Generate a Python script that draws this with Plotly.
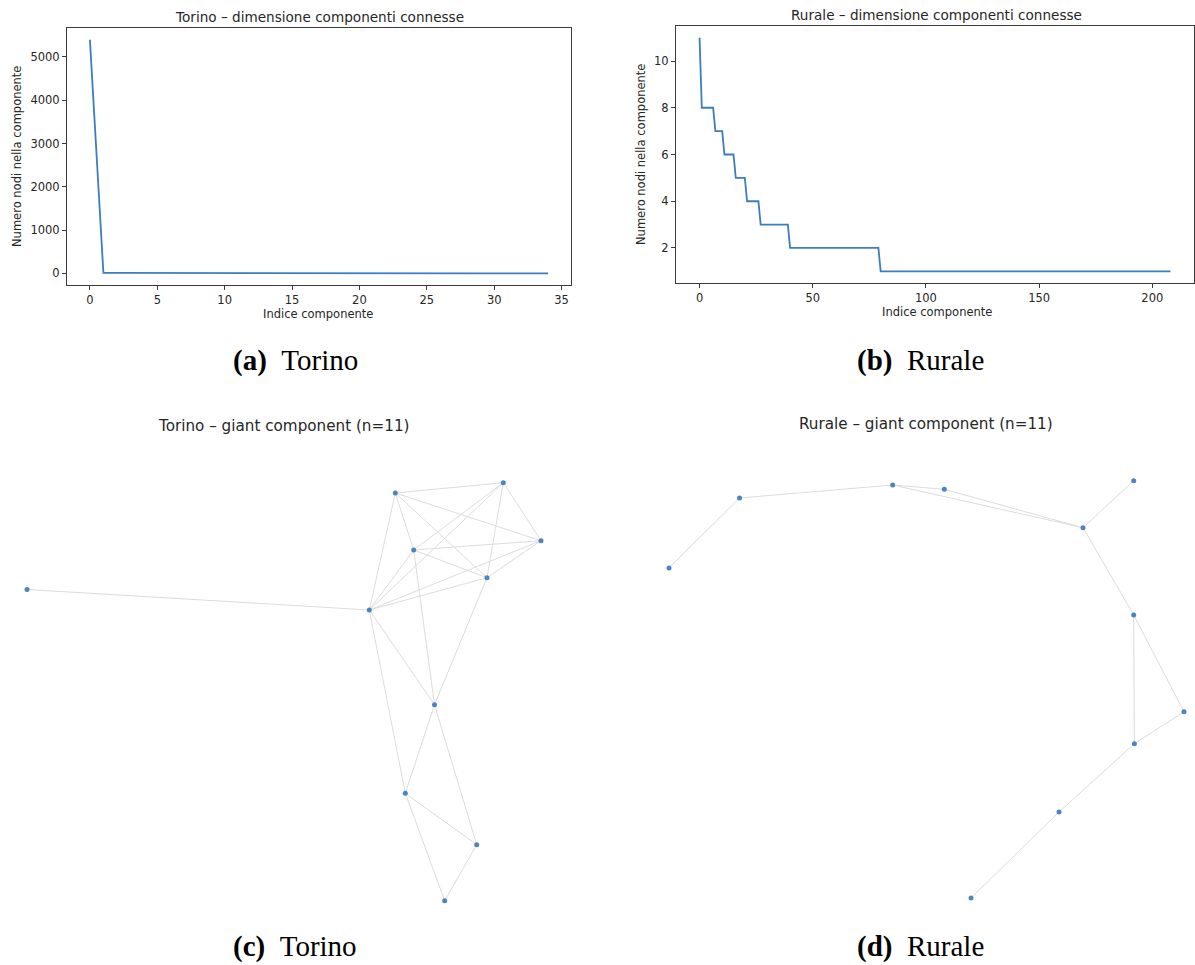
import plotly.graph_objects as go

W, H = 1195, 965

# ---------------- data ----------------
torino_sizes = [5400, 11, 9, 8, 7, 6, 6, 5, 5, 4, 4, 4, 3, 3, 3, 3, 3, 2, 2, 2,
                2, 2, 2, 2, 1, 1, 1, 1, 1, 1, 1, 1, 1, 1, 1]
torino_idx = list(range(len(torino_sizes)))

# Rurale component sizes as (size, number of components) runs
rurale_levels = [11, 8, 7, 6, 5, 4, 3, 2, 1]
rurale_counts = [1, 6, 4, 5, 5, 6, 13, 40, 129]
rurale_sizes = []
for lv, c in zip(rurale_levels, rurale_counts):
    rurale_sizes += [lv] * c
rurale_idx = list(range(len(rurale_sizes)))

torino_xticks = [0, 5, 10, 15, 20, 25, 30, 35]
torino_yticks = [0, 1000, 2000, 3000, 4000, 5000]
rurale_xticks = [0, 50, 100, 150, 200]
rurale_yticks = [2, 4, 6, 8, 10]

# giant component layouts (node positions in drawing units)
tor_nodes = ["A", "B", "C", "D", "E", "F", "G", "H", "I", "J", "K"]
tor_x = [27, 369.3, 395.3, 503.3, 541, 413.7, 487, 434.5, 405.3, 476.7, 444.7]
tor_y = [589.5, 610, 493, 482.7, 540.7, 550, 577.7, 704.7, 793.3, 844.7, 900.7]
tor_edges = [("A", "B"), ("B", "C"), ("B", "D"), ("B", "E"), ("B", "F"), ("B", "G"),
             ("B", "H"), ("B", "I"), ("C", "D"), ("C", "E"), ("C", "G"), ("C", "F"),
             ("F", "H"), ("D", "E"), ("D", "F"), ("D", "G"), ("E", "F"), ("E", "G"),
             ("F", "G"), ("G", "H"), ("H", "I"), ("H", "J"), ("I", "J"), ("I", "K"),
             ("J", "K")]

rur_nodes = ["a", "b", "c", "d", "e", "f", "g", "h", "i", "j", "k"]
rur_x = [669, 739.5, 892.7, 944.3, 1083, 1133.7, 1133.7, 1184, 1134.4, 1059, 971]
rur_y = [568, 498, 485, 489.3, 527.7, 480.7, 615, 711.7, 743.7, 812, 898]
rur_edges = [("a", "b"), ("b", "c"), ("c", "d"), ("c", "e"), ("d", "e"), ("e", "f"),
             ("e", "g"), ("g", "i"), ("g", "h"), ("h", "i"), ("i", "j"), ("j", "k")]

# ---------------- styles ----------------
LINE_C = "#3c7dbf"
NODE_C = "#4a84c2"
EDGE_C = "#dcdcdc"
TXT = "#262626"
AX = "#3a3a3a"
SANS = "DejaVu Sans"
SERIF = "Liberation Serif"


def px(x):
    return x / W


def py(y):
    return 1 - y / H


fig = go.Figure()

fig.add_trace(go.Scatter(x=torino_idx, y=torino_sizes, mode="lines",
                         line=dict(color=LINE_C, width=1.8), xaxis="x", yaxis="y",
                         showlegend=False, hoverinfo="skip"))
fig.add_trace(go.Scatter(x=rurale_idx, y=rurale_sizes, mode="lines",
                         line=dict(color=LINE_C, width=1.8), xaxis="x2", yaxis="y2",
                         showlegend=False, hoverinfo="skip"))


def add_graph(nodes, xs, ys, edges, xa, ya):
    pos = {n: (x, y) for n, x, y in zip(nodes, xs, ys)}
    ex, ey = [], []
    for u, v in edges:
        ex += [pos[u][0], pos[v][0], None]
        ey += [pos[u][1], pos[v][1], None]
    fig.add_trace(go.Scatter(x=ex, y=ey, mode="lines", line=dict(color=EDGE_C, width=1),
                             xaxis=xa, yaxis=ya, showlegend=False, hoverinfo="skip"))
    fig.add_trace(go.Scatter(x=xs, y=ys, mode="markers",
                             marker=dict(color=NODE_C, size=5, line=dict(width=0)),
                             xaxis=xa, yaxis=ya, showlegend=False, hoverinfo="skip"))


add_graph(tor_nodes, tor_x, tor_y, tor_edges, "x3", "y3")
add_graph(rur_nodes, rur_x, rur_y, rur_edges, "x4", "y4")

axis_common = dict(showline=True, linecolor=AX, linewidth=1, mirror=True,
                   ticks="outside", ticklen=4, tickwidth=1, tickcolor=AX,
                   showgrid=False, zeroline=False,
                   tickfont=dict(family=SANS, size=11.5, color=TXT))
hidden = dict(visible=False, showgrid=False, zeroline=False)

fig.update_layout(
    width=W, height=H, margin=dict(l=0, r=0, t=0, b=0),
    paper_bgcolor="white", plot_bgcolor="rgba(0,0,0,0)",
    xaxis=dict(domain=[px(67), px(571)], range=[-1.7, 35.7], tickvals=torino_xticks,
               anchor="y", **axis_common),
    yaxis=dict(domain=[py(285), py(28)], range=[-269, 5670], tickvals=torino_yticks,
               anchor="x", **axis_common),
    xaxis2=dict(domain=[px(676), px(1194)], range=[-10.4, 218.4], tickvals=rurale_xticks,
                anchor="y2", **axis_common),
    yaxis2=dict(domain=[py(283), py(26)], range=[0.5, 11.5], tickvals=rurale_yticks,
                anchor="x2", **axis_common),
    xaxis3=dict(domain=[0, px(600)], range=[0, 600], anchor="y3", **hidden),
    yaxis3=dict(domain=[0, py(440)], range=[965, 440], anchor="x3", **hidden),
    xaxis4=dict(domain=[px(600), 1], range=[600, 1195], anchor="y4", **hidden),
    yaxis4=dict(domain=[0, py(440)], range=[965, 440], anchor="x4", **hidden),
)


def txt(text, x, y, size, family=SANS, color=TXT, angle=0):
    fig.add_annotation(text=text, x=px(x), y=py(y), xref="paper", yref="paper",
                       showarrow=False, xanchor="center", yanchor="middle",
                       textangle=angle, font=dict(family=family, size=size, color=color))


# titles
txt("Torino – dimensione componenti connesse", 319, 17, 13.6)
txt("Rurale – dimensione componenti connesse", 936, 15, 13.6)
txt("Torino – giant component (n=11)", 283, 426, 15.2)
txt("Rurale – giant component (n=11)", 926, 424, 15.2)
# axis labels
txt("Indice componente", 318, 314, 11.5)
txt("Indice componente", 937, 312, 11.5)
txt("Numero nodi nella componente", 17, 157, 11.5, angle=-90)
txt("Numero nodi nella componente", 641, 155, 11.5, angle=-90)
# captions
txt("<b>(a)</b>&nbsp;&nbsp;Torino", 295, 360, 29, family=SERIF, color="black")
txt("<b>(b)</b>&nbsp;&nbsp;Rurale", 920, 360, 29, family=SERIF, color="black")
txt("<b>(c)</b>&nbsp;&nbsp;Torino", 295, 946, 29, family=SERIF, color="black")
txt("<b>(d)</b>&nbsp;&nbsp;Rurale", 920, 946, 29, family=SERIF, color="black")

fig.write_html("out.html")
